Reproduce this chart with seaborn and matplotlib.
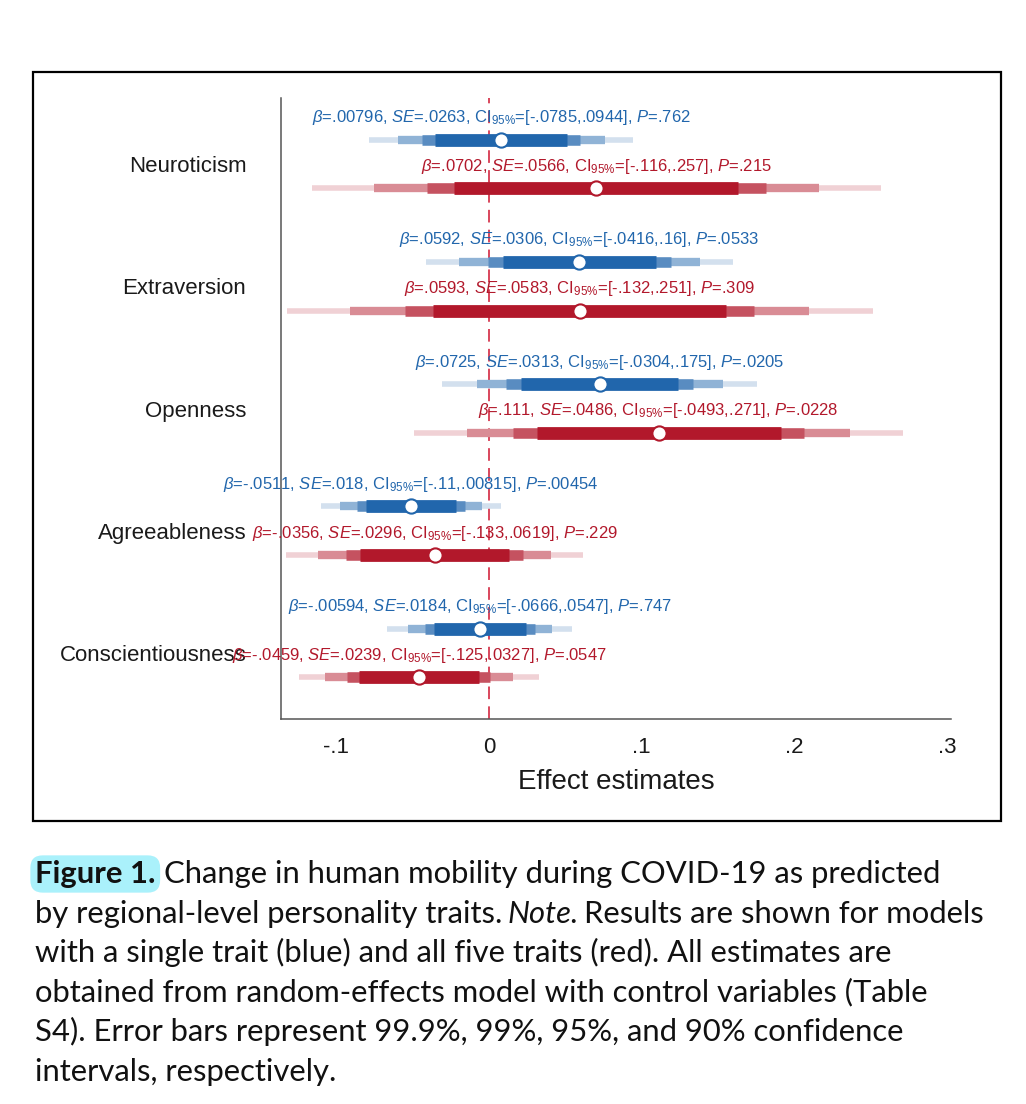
import matplotlib
matplotlib.use('Agg')
import matplotlib.pyplot as plt
import numpy as np
import pandas as pd
import seaborn as sns
from matplotlib import colors as mcolors
from matplotlib.patches import Rectangle

TRAITS = ['Neuroticism', 'Extraversion', 'Openness', 'Agreeableness', 'Conscientiousness']

# single-trait models (blue)
single_beta = [0.00796, 0.0592, 0.0725, -0.0511, -0.00594]
single_ci999_lo = [-0.0786, -0.0415, -0.0305, -0.1103, -0.0665]
single_ci999_hi = [0.0945, 0.1599, 0.1755, 0.0081, 0.0546]
single_ci99_lo = [-0.0598, -0.0196, -0.0081, -0.0975, -0.0533]
single_ci99_hi = [0.0757, 0.1380, 0.1531, -0.0047, 0.0415]
single_ci95_lo = [-0.0436, -0.0008, 0.0112, -0.0864, -0.0420]
single_ci95_hi = [0.0595, 0.1192, 0.1338, -0.0158, 0.0301]
single_ci90_lo = [-0.0353, 0.0089, 0.0210, -0.0807, -0.0362]
single_ci90_hi = [0.0512, 0.1095, 0.1240, -0.0215, 0.0243]
single_text = [
    r'$\it{β}$=.00796, $\it{SE}$=.0263, CI$_{95\%}$=[-.0785,.0944], $\it{P}$=.762',
    r'$\it{β}$=.0592, $\it{SE}$=.0306, CI$_{95\%}$=[-.0416,.16], $\it{P}$=.0533',
    r'$\it{β}$=.0725, $\it{SE}$=.0313, CI$_{95\%}$=[-.0304,.175], $\it{P}$=.0205',
    r'$\it{β}$=-.0511, $\it{SE}$=.018, CI$_{95\%}$=[-.11,.00815], $\it{P}$=.00454',
    r'$\it{β}$=-.00594, $\it{SE}$=.0184, CI$_{95\%}$=[-.0666,.0547], $\it{P}$=.747',
]

# all-five-traits model (red)
full_beta = [0.0702, 0.0593, 0.111, -0.0356, -0.0459]
full_ci999_lo = [-0.1161, -0.1326, -0.0489, -0.1330, -0.1246]
full_ci999_hi = [0.2565, 0.2512, 0.2709, 0.0618, 0.0328]
full_ci99_lo = [-0.0756, -0.0909, -0.0142, -0.1118, -0.1075]
full_ci99_hi = [0.2160, 0.2095, 0.2362, 0.0406, 0.0157]
full_ci95_lo = [-0.0407, -0.0550, 0.0157, -0.0936, -0.0927]
full_ci95_hi = [0.1811, 0.1736, 0.2063, 0.0224, 0.0009]
full_ci90_lo = [-0.0229, -0.0366, 0.0311, -0.0843, -0.0852]
full_ci90_hi = [0.1633, 0.1552, 0.1909, 0.0131, -0.0066]
full_text = [
    r'$\it{β}$=.0702, $\it{SE}$=.0566, CI$_{95\%}$=[-.116,.257], $\it{P}$=.215',
    r'$\it{β}$=.0593, $\it{SE}$=.0583, CI$_{95\%}$=[-.132,.251], $\it{P}$=.309',
    r'$\it{β}$=.111, $\it{SE}$=.0486, CI$_{95\%}$=[-.0493,.271], $\it{P}$=.0228',
    r'$\it{β}$=-.0356, $\it{SE}$=.0296, CI$_{95\%}$=[-.133,.0619], $\it{P}$=.229',
    r'$\it{β}$=-.0459, $\it{SE}$=.0239, CI$_{95\%}$=[-.125,.0327], $\it{P}$=.0547',
]

X_TICKS = [-0.1, 0, 0.1, 0.2, 0.3]
X_TICKLABELS = ['-.1', '0', '.1', '.2', '.3']

CAPTION = [
    [('Figure 1.', 'bold', 'normal', True), ('Change in human mobility during COVID-19 as predicted', 'normal', 'normal', False)],
    [('by regional-level personality traits.', 'normal', 'normal', False), ('Note.', 'normal', 'italic', False),
     ('Results are shown for models', 'normal', 'normal', False)],
    [('with a single trait (blue) and all five traits (red). All estimates are', 'normal', 'normal', False)],
    [('obtained from random-effects model with control variables (Table', 'normal', 'normal', False)],
    [('S4). Error bars represent 99.9%, 99%, 95%, and 90% confidence', 'normal', 'normal', False)],
    [('intervals, respectively.', 'normal', 'normal', False)],
]

BLUE = '#2166ac'
RED = '#b2182b'


def tint(color, a):
    rgb = np.array(mcolors.to_rgb(color))
    return tuple(rgb * a + (1 - a))


def caption_line(fig, renderer, x_px, base_px, runs, size):
    W, H = fig.bbox.width, fig.bbox.height
    x = x_px
    for txt, weight, style, highlight in runs:
        box = dict(boxstyle='round,pad=0.15,rounding_size=0.4', fc='#aaf1fb', ec='none') if highlight else None
        t = fig.text(x / W, 1 - base_px / H, txt, fontsize=size, fontweight=weight,
                     fontstyle=style, family=['Lato', 'DejaVu Sans'], color='#111111',
                     ha='left', va='baseline', bbox=box)
        bb = t.get_window_extent(renderer)
        x = bb.x1 + (9 if highlight else 5)


def main():
    sns.set_style('white')
    plt.rcParams['font.family'] = ['Liberation Sans', 'DejaVu Sans']
    plt.rcParams['mathtext.fontset'] = 'custom'
    plt.rcParams['mathtext.rm'] = 'Liberation Sans'
    plt.rcParams['mathtext.it'] = 'Liberation Sans:italic'
    plt.rcParams['mathtext.bf'] = 'Liberation Sans:bold'

    fig = plt.figure(figsize=(10.26, 11.04), dpi=100)
    ax = fig.add_axes([0.2739, 0.3487, 0.6530, 0.5625])

    models = [
        ('single', BLUE, -0.2, single_beta, single_text,
         [(single_ci999_lo, single_ci999_hi), (single_ci99_lo, single_ci99_hi),
          (single_ci95_lo, single_ci95_hi), (single_ci90_lo, single_ci90_hi)]),
        ('full', RED, 0.2, full_beta, full_text,
         [(full_ci999_lo, full_ci999_hi), (full_ci99_lo, full_ci99_hi),
          (full_ci95_lo, full_ci95_hi), (full_ci90_lo, full_ci90_hi)]),
    ]
    widths = [4.0, 6.0, 7.6, 9.2]
    alphas = [0.2, 0.5, 0.75, 1.0]

    ax.axvline(0, color='#d7384f', lw=1.3, ls=(0, (7, 4)), zorder=1)

    for name, col, off, beta, text, cis in models:
        ypos = np.arange(len(TRAITS)) + off
        for k, (lo, hi) in enumerate(cis):
            ax.hlines(ypos, lo, hi, color=tint(col, alphas[k]), lw=widths[k],
                      capstyle='butt', zorder=2 + k)
        df = pd.DataFrame({'trait': TRAITS, 'beta': beta, 'y': ypos})
        sns.scatterplot(data=df, x='beta', y='y', color='white', edgecolor=col,
                        linewidth=1.5, s=105, zorder=10, ax=ax, legend=False)
        for b, yy, t in zip(beta, ypos, text):
            ax.text(b, yy - 0.18, t, color=col, fontsize=12, ha='center', va='center', zorder=11)

    ax.set_xlim(-0.1362, 0.3025)
    ax.set_ylim(4.54, -0.54)
    ax.set_xticks(X_TICKS)
    ax.set_xticklabels(X_TICKLABELS)
    ax.set_yticks(range(len(TRAITS)))
    ax.set_yticklabels(TRAITS)
    ax.tick_params(axis='x', length=7, width=1.1, color='#555555', pad=6, labelsize=16, labelcolor='#1a1a1a')
    ax.tick_params(axis='y', length=7, width=1.1, color='#555555', pad=18, labelsize=16, labelcolor='#1a1a1a')
    for s in ['top', 'right']:
        ax.spines[s].set_visible(False)
    for s in ['left', 'bottom']:
        ax.spines[s].set_color('#555555')
        ax.spines[s].set_linewidth(1.1)
    ax.set_xlabel('Effect estimates', fontsize=20, labelpad=8, color='#1a1a1a')
    ax.set_ylabel('')

    fig.add_artist(Rectangle((33 / 1026, 1 - 821 / 1104), (1001 - 33) / 1026, (821 - 72) / 1104,
                             transform=fig.transFigure, fill=False, ec='black', lw=1.6))

    renderer = fig.canvas.get_renderer()
    baselines = [883, 922.6, 962.2, 1001.8, 1041.4, 1081]
    for runs, base in zip(CAPTION, baselines):
        caption_line(fig, renderer, 35, base, runs, 22.3)

    fig.savefig('out.png', dpi=100)


if __name__ == '__main__':
    main()
